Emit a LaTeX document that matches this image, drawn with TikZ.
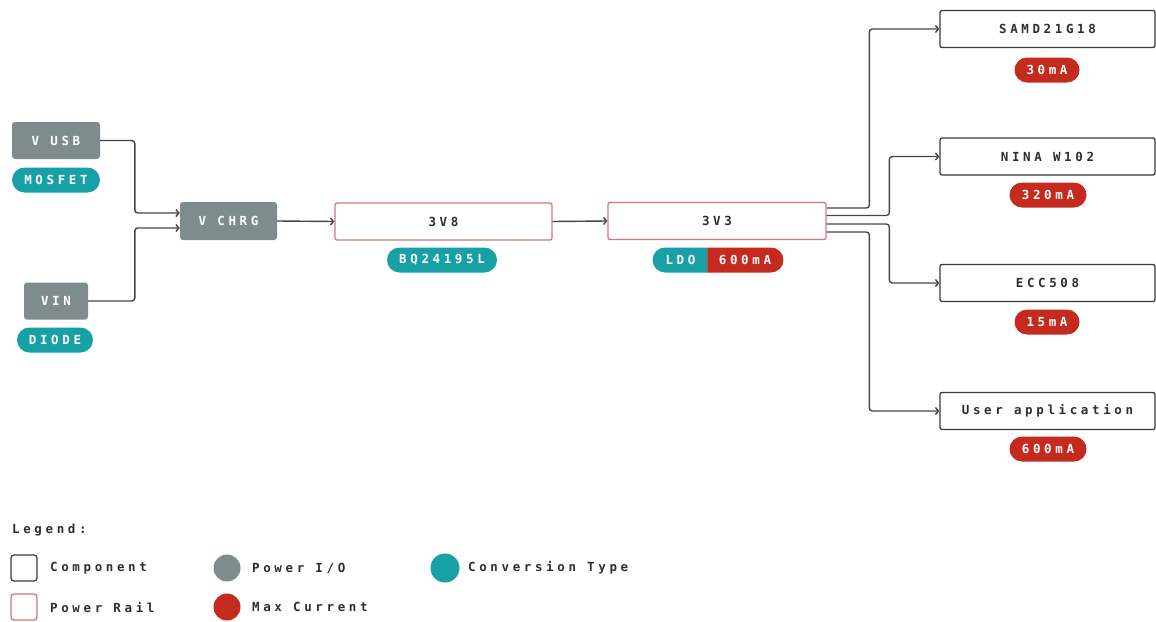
\documentclass[tikz,border=0pt]{standalone}
\usepackage{fontspec}
\newfontfamily\dmono[LetterSpace=29]{DejaVu Sans Mono}
\usetikzlibrary{arrows.meta,shapes.misc}
\definecolor{iogray}{HTML}{7F8C8D}
\definecolor{convteal}{HTML}{17A0A5}
\definecolor{curred}{HTML}{C42A1D}
\definecolor{railred}{HTML}{DC7272}
\definecolor{compborder}{HTML}{3A3A3A}
\definecolor{textdark}{HTML}{2E2E2E}
\definecolor{linegray}{HTML}{454545}
\begin{document}
\begin{tikzpicture}[x=1pt,y=-1pt,
  font=\dmono\bfseries\fontsize{12.5}{14}\selectfont,
  io/.style={rectangle, rounded corners=3pt, fill=iogray, text=white, minimum height=37pt, inner sep=0pt},
  comp/.style={rectangle, rounded corners=2pt, draw=compborder, line width=1.3pt, fill=white, text=textdark, minimum width=215pt, minimum height=37pt, inner sep=0pt},
  rail/.style={comp, draw=railred, minimum width=217pt},
  pill/.style={rounded rectangle, minimum height=25pt, inner sep=0pt, text=white},
  conv/.style={pill, fill=convteal},
  cur/.style={pill, fill=curred},
  conn/.style={draw=linegray, line width=1.4pt, rounded corners=3pt, -{Straight Barb[length=3pt,width=7pt]}},
  legbox/.style={rectangle, rounded corners=3pt, line width=1.3pt, fill=white, minimum width=26pt, minimum height=26pt, inner sep=0pt},
  legdot/.style={circle, inner sep=0pt, minimum size=27pt},
  legtext/.style={anchor=west, text=textdark, inner sep=0pt}
]
\useasboundingbox (0,0) rectangle (1156,621);

% inputs
\node[io, minimum width=88pt] (vusb) at (56,140.5) {V USB};
\node[conv, minimum width=88pt] (mosfet) at (56,180) {MOSFET};
\node[io, minimum width=64pt] (vin) at (56,301) {VIN};
\node[conv, minimum width=76pt] (diode) at (55,340) {DIODE};
\node[io, minimum width=97pt, minimum height=38pt] (vchrg) at (228.5,221) {V CHRG};

% rails
\node[rail] (v38) at (443.5,221.5) {3V8};
\node[conv, minimum width=110pt] (bq) at (442,260) {BQ24195L};
\node[rail, minimum width=218pt] (v33) at (717,221) {3V3};
\node[conv, rounded rectangle right arc=none, minimum width=55pt] (ldo) at (680.5,260) {LDO};
\node[cur, rounded rectangle left arc=none, minimum width=76pt] (ldocur) at (745,260) {600mA};

% loads
\node[comp] (samd) at (1047.5,29) {SAMD21G18};
\node[cur, minimum width=65pt] (c30) at (1047,70) {30mA};
\node[comp] (nina) at (1047.5,156.5) {NINA W102};
\node[cur, minimum width=77pt] (c320) at (1048,195) {320mA};
\node[comp] (ecc) at (1047.5,283) {ECC508};
\node[cur, minimum width=65pt] (c15) at (1047,322) {15mA};
\node[comp] (user) at (1047.5,411) {User application};
\node[cur, minimum width=77pt] (c600) at (1048,449) {600mA};

% connectors
\draw[conn] (vusb.east) -| ([shift={(-45pt,8pt)}]vchrg.west) -- ([yshift=8pt]vchrg.west);
\draw[conn] (vin.east) -| ([shift={(-45pt,-7pt)}]vchrg.west) -- ([yshift=-7pt]vchrg.west);
\draw[conn] (vchrg.east) -- (v38.west);
\draw[conn] (v38.east) -- (v33.west);
\draw[conn] ([yshift=13pt]v33.east) -| ([xshift=-70pt]samd.west) -- (samd.west);
\draw[conn] ([yshift=5.5pt]v33.east) -| ([xshift=-50pt]nina.west) -- (nina.west);
\draw[conn] ([yshift=-3pt]v33.east) -| ([xshift=-50pt]ecc.west) -- (ecc.west);
\draw[conn] ([yshift=-11pt]v33.east) -| ([xshift=-70pt]user.west) -- (user.west);

% legend
\node[legtext] (legend) at (12,530) {Legend:};
\node[legbox, draw=compborder] (lcomp) at (24,568) {};
\node[legtext] (lcompt) at (50,568) {Component};
\node[legbox, draw=railred] (lrail) at (24,607) {};
\node[legtext] (lrailt) at (50,607) {Power Rail};
\node[legdot, fill=iogray] (lio) at (227,568) {};
\node[legtext] (liot) at (252,568) {Power I/O};
\node[legdot, fill=curred] (lcur) at (227,607) {};
\node[legtext] (lcurt) at (252,607) {Max Current};
\node[legdot, fill=convteal, minimum size=29pt] (lconv) at (445,568) {};
\node[legtext] (lconvt) at (468,568) {Conversion Type};
\end{tikzpicture}
\end{document}
